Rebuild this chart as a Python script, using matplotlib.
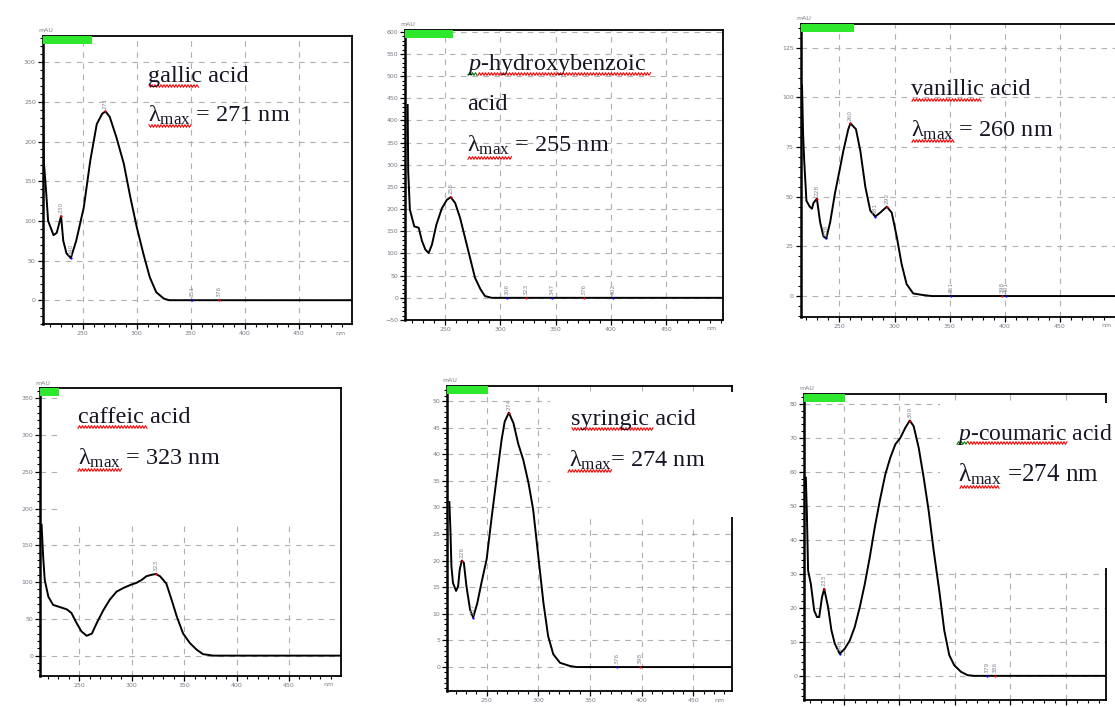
import matplotlib.pyplot as plt
import numpy as np
from matplotlib.patches import Rectangle
from matplotlib.lines import Line2D
from matplotlib.ticker import MultipleLocator, AutoMinorLocator, FixedLocator

plt.rcParams['mathtext.fontset'] = 'custom'
plt.rcParams['mathtext.rm'] = 'Liberation Serif'
plt.rcParams['mathtext.it'] = 'Liberation Serif:italic'

W, H = 1115, 707

# spectra (wavelength nm, absorbance mAU)
gallic_nm = [213, 214, 216, 218, 223, 226, 230, 232, 235, 239, 244, 251, 257, 263, 268, 271, 275,
             281, 288, 294, 300, 306, 312, 318, 325, 330, 499]
gallic_mau = [310, 175, 140, 100, 82, 85, 106, 75, 59, 53, 75, 117, 176, 222, 235, 238, 231,
              206, 172, 130, 92, 59, 29, 10, 2, 0, 0]

phb_nm = [216, 216.5, 218, 222, 226, 229, 232, 235, 238, 242, 247, 251.5, 255, 259, 263.5, 268,
          272.5, 277, 282, 286, 292, 501]
phb_mau = [435, 285, 199, 161, 158, 128, 109, 101, 120, 165, 202, 221, 227, 214, 180, 135,
           90, 45, 19, 4, 0, 0]

van_nm = [216, 217, 218, 220, 223, 225, 226.5, 229.5, 232.5, 235.5, 238, 241.5, 246, 250, 253.5,
          258, 260, 265, 269, 273.5, 278, 282.5, 287, 293, 297.5, 302, 306.5, 311, 317, 326, 334, 503]
van_mau = [106, 81, 68, 48, 45, 44, 47, 49, 37, 30, 29, 37, 52, 63, 73,
           84, 87, 84, 73, 55, 43, 40, 42, 45, 42, 30, 16, 6, 1.3, 0.5, 0, 0]

caf_nm = [214, 215.5, 217, 220.5, 225, 231.5, 238, 242.5, 247.5, 252, 257, 262, 266.5, 273, 279,
          285.5, 292, 298.5, 304.5, 309.5, 314, 319, 323, 327, 333, 338, 343, 349, 355.5, 362,
          368, 378, 499]
caf_mau = [178, 135, 103, 80, 69, 66, 63, 58, 44, 33, 27, 30, 44, 62, 76,
           87, 92, 96, 99, 103, 108, 110, 111, 108, 98, 76, 53, 30, 17, 8,
           2, 0, 0]

syr_nm = [214, 215, 216, 217.5, 220.5, 222.5, 224, 226, 228, 230.5, 234, 237, 241, 245, 250, 255,
          259.5, 264.5, 267.5, 271.5, 276, 280.5, 285.5, 290.5, 295, 300, 305, 309.5, 314.5, 321,
          330.5, 337, 487]
syr_mau = [31, 25.8, 18.9, 15.8, 14.3, 15.2, 18.3, 20, 19.6, 15.2, 10.8, 9.3, 12, 15.8, 20.2, 28.3,
           35.2, 42.7, 46.1, 47.8, 45.8, 42, 38.9, 34.6, 29.6, 20.8, 12, 5.8, 2.4, 0.8,
           0.2, 0, 0]

pc_nm = [216, 217, 218, 220.5, 223.5, 226, 228, 230.5, 232.5, 236, 239, 242, 246.5, 251, 255.5,
         260, 264.5, 269, 273.5, 278, 282.5, 287.5, 292, 296.5, 301, 305.5, 309.5, 313, 317.5, 322,
         326.5, 331, 336, 340.5, 345, 349.5, 355.5, 361.5, 367.5, 486]
pc_mau = [58.3, 46.6, 31, 27, 19.2, 17.3, 17.3, 23.1, 25.6, 20.2, 13.4, 9.5, 6.5, 8, 10.4,
          14.4, 20.2, 27, 34.9, 43.7, 51.5, 59.3, 64.2, 68.1, 70, 73, 75.1, 73.4, 67.1, 58.3,
          48.5, 36.8, 25.1, 13.4, 6.1, 3.1, 1.2, 0.2, 0, 0]

x_ticks = [250, 300, 350, 400, 450]

# peak / valley markers (x, y, label, maximum?)
gallic_pk_nm = [230, 239, 271, 351, 376]
gallic_pk_mau = [106, 53, 238, 0, 0]
gallic_pk_lbl = ['230', '240', '271', '351', '376']
gallic_pk_max = [True, False, True, False, True]

phb_pk_nm = [255, 306, 323, 347, 376, 402]
phb_pk_mau = [227, 0, 0, 0, 0, 0]
phb_pk_lbl = ['255', '306', '323', '347', '376', '402']
phb_pk_max = [True, False, True, False, True, False]

van_pk_nm = [229.5, 238, 260, 282.5, 293, 351, 398, 401]
van_pk_mau = [49, 29, 87, 40, 45, 0, 0, 0]
van_pk_lbl = ['228', '238', '260', '281', '292', '351', '398', '401']
van_pk_max = [True, False, True, False, True, False, True, False]

caf_pk_nm = [323]
caf_pk_mau = [111]
caf_pk_lbl = ['323']
caf_pk_max = [True]

syr_pk_nm = [226, 237, 271.5, 376, 398]
syr_pk_mau = [20, 9.3, 47.8, 0, 0]
syr_pk_lbl = ['226', '237', '274', '376', '398']
syr_pk_max = [True, False, True, False, True]

pc_pk_nm = [232.5, 246.5, 309.5, 379, 386]
pc_pk_mau = [25.6, 6.5, 75.1, 0, 0]
pc_pk_lbl = ['233', '246', '309', '379', '386']
pc_pk_max = [True, False, True, False, True]

fig = plt.figure(figsize=(W / 100, H / 100), dpi=100)


def panel(box, nm, mau, xlim, ylim, ystep, pk_nm, pk_mau, pk_lbl, pk_max, green_w,
          cover=None, xlabels=True):
    left, top, right, bottom = box
    wpx, hpx = right - left, bottom - top
    ax = fig.add_axes([left / W, 1 - bottom / H, wpx / W, hpx / H])
    ax.plot(nm, mau, color='black', lw=1.4, zorder=2)
    ax.set_xlim(*xlim)
    ax.set_ylim(*ylim)
    ax.xaxis.set_major_locator(FixedLocator(x_ticks))
    ax.xaxis.set_minor_locator(MultipleLocator(10))
    ax.yaxis.set_major_locator(MultipleLocator(ystep))
    ax.yaxis.set_minor_locator(AutoMinorLocator(5))
    ax.grid(True, which='major', color='#b0b0b0', lw=0.8, ls=(0, (5, 5)))
    ax.tick_params(which='major', direction='out', length=3.5, width=0.9,
                   labelsize=4.5, labelcolor='#7a7a88', pad=1.5)
    ax.tick_params(which='minor', direction='out', length=2.2, width=0.8)
    if not xlabels:
        ax.tick_params(axis='x', labelbottom=False)
    for s in ax.spines.values():
        s.set_linewidth(1.3)
    ax.spines['left'].set_linewidth(1.8)
    for x, y, t, is_max in zip(pk_nm, pk_mau, pk_lbl, pk_max):
        ax.plot(x, y, 'o', ms=1.6, mew=0, color='red' if is_max else 'blue', zorder=3)
        ax.annotate(t, (x, y), xytext=(0, 2), textcoords='offset points', rotation=90,
                    ha='center', va='bottom', fontsize=4.2, color='#8a8a9a')
    ax.annotate('mAU', (0, 1), xycoords='axes fraction', xytext=(3, 5), textcoords='offset pixels',
                ha='center', va='center', fontsize=4.5, color='#7a7a88')
    if xlabels:
        ax.annotate('nm', (1, 0), xycoords='axes fraction', xytext=(-12, -9),
                    textcoords='offset pixels', ha='center', va='center',
                    fontsize=4.5, color='#7a7a88')
    ax.add_patch(Rectangle((0, 1 - 8 / hpx), green_w / wpx, 8 / hpx, transform=ax.transAxes,
                           facecolor='#2ee82e', edgecolor='none', zorder=4, clip_on=False))
    if cover is not None:
        x0, y0, x1, y1, hide_spine = cover
        ax.add_patch(Rectangle((x0, y0), x1 - x0, y1 - y0, transform=ax.transAxes,
                               facecolor='white', edgecolor='none', zorder=1.8, clip_on=False))
        if hide_spine:
            ax.add_patch(Rectangle((0.99, y0), 0.03, y1 - y0, transform=ax.transAxes,
                                   facecolor='white', edgecolor='none', zorder=3, clip_on=False))
    return ax


panel((42.7, 36, 352, 324), gallic_nm, gallic_mau, (213, 499), (-30, 333), 50,
      gallic_pk_nm, gallic_pk_mau, gallic_pk_lbl, gallic_pk_max, 49)
panel((405, 30, 723, 320), phb_nm, phb_mau, (213.6, 501.5), (-50, 604), 50,
      phb_pk_nm, phb_pk_mau, phb_pk_lbl, phb_pk_max, 48)
panel((800.7, 24, 1118, 316.7), van_nm, van_mau, (214.8, 503), (-10.4, 137), 25,
      van_pk_nm, van_pk_mau, van_pk_lbl, van_pk_max, 53)
panel((40, 388.3, 340.7, 676), caf_nm, caf_mau, (212.5, 499.3), (-27.7, 363.6), 50,
      caf_pk_nm, caf_pk_mau, caf_pk_lbl, caf_pk_max, 19, cover=(0.06, 0.54, 0.985, 0.993, False))
panel((447.3, 386, 731.7, 691), syr_nm, syr_mau, (212, 487), (-4.5, 52.8), 5,
      syr_pk_nm, syr_pk_mau, syr_pk_lbl, syr_pk_max, 41, cover=(0.361, 0.5715, 1.0, 0.981, True))
panel((804.3, 394, 1106, 700), pc_nm, pc_mau, (214.6, 486), (-7.1, 82.9), 10,
      pc_pk_nm, pc_pk_mau, pc_pk_lbl, pc_pk_max, 41, cover=(0.45, 0.43, 1.0, 0.97, True),
      xlabels=False)


def label(x, y, s, size=17.5):
    fig.text(x / W, 1 - y / H, s, fontsize=size, family='Liberation Serif', color='#161624',
             ha='left', va='baseline')


def squiggle(x0, x1, y, color='red'):
    xs = np.arange(x0, x1, 1.5)
    ys = y + 1.3 * np.sign(np.sin(xs * np.pi / 1.5 + 0.5))
    fig.add_artist(Line2D(xs / W, 1 - ys / H, color=color, lw=0.8))


lam = r'λ$_{\mathrm{max}}$'
label(148, 82, 'gallic acid')
label(148, 122, lam + ' = 271 nm')
label(467, 70, r'$\mathit{p}$-hydroxybenzoic')
label(467, 110, 'acid')
label(467, 152, lam + ' = 255 nm')
label(911, 95, 'vanillic acid')
label(911, 137, lam + ' = 260 nm')
label(78, 423, 'caffeic acid')
label(78, 465, lam + ' = 323 nm')
label(571, 425, 'syringic acid')
label(569, 467, lam + '= 274 nm')
label(957, 440, r'$\mathit{p}$-coumaric acid', size=17)
label(958, 481, lam + ' =274 nm', size=18)

squiggle(149, 200, 86)
squiggle(149, 192, 126)
squiggle(468, 478, 74, 'green')
squiggle(478, 652, 74)
squiggle(468, 512, 158)
squiggle(912, 982, 100)
squiggle(912, 955, 141)
squiggle(78, 148, 427)
squiggle(78, 122, 470)
squiggle(572, 654, 429)
squiggle(568, 613, 471)
squiggle(957, 968, 443, 'green')
squiggle(968, 1068, 443)
squiggle(960, 1000, 487)

fig.savefig('out.png', dpi=100)
